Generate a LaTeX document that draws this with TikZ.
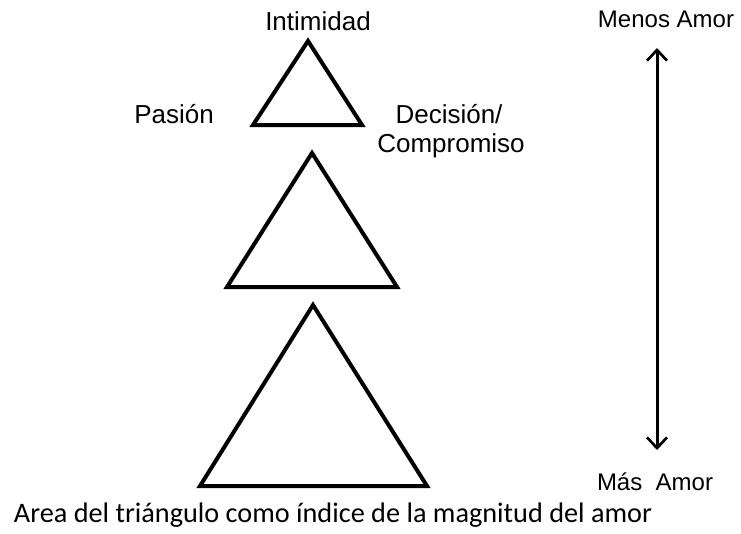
\documentclass[tikz,border=0pt]{standalone}
\usepackage{fontspec}
\setmainfont{Liberation Sans}
\newfontfamily\capfont{Carlito}
\usetikzlibrary{arrows.meta}

\begin{document}
\begin{tikzpicture}[
        x=0.75pt, y=-0.75pt, line join=miter,
        tri/.style={line width=3pt},
        lbl/.style={font=\fontsize{19.5}{23}\selectfont, inner sep=0pt, anchor=base},
        side/.style={font=\fontsize{18}{21}\selectfont, inner sep=0pt, anchor=base},
        >={Straight Barb[length=8pt,width=15pt,line width=2pt]}
        ]
        \useasboundingbox (0,0) rectangle (741,533);

        % the three triangles, growing downwards
        \draw[tri] (308,41) -- (362,125) -- (253,125) -- cycle;
        \draw[tri] (312,153) -- (397,287) -- (227,287) -- cycle;
        \draw[tri] (313,305) -- (427,486) -- (200,486) -- cycle;

        \node[lbl] (intim)  at (318,30)  {Intimidad};
        \node[lbl] (pasion) at (174,123) {Pasión};
        \node[lbl] (dec)    at (449,123) {Decisión/};
        \node[lbl] (comp)   at (451,152) {Compromiso};

        % scale on the right
        \node[side] (menos) at (666,27)  {Menos Amor};
        \node[side] (mas)   at (655,490) {Más\ \ Amor};
        \coordinate (up)   at (657,48);
        \coordinate (down) at (657,450);
        \draw[<->, line width=2.25pt] (up) -- (down);

        \node[font=\capfont\fontsize{21.2}{25}\selectfont, inner sep=0pt, anchor=base] (cap)
            at (333,522) {Area del triángulo como índice de la magnitud del amor};
\end{tikzpicture}
\end{document}
